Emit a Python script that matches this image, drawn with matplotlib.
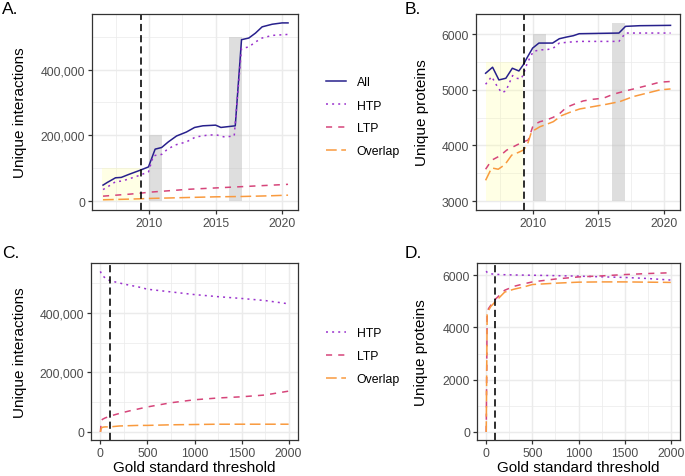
import matplotlib
matplotlib.use("Agg")
import matplotlib.pyplot as plt
import matplotlib.ticker as mticker

plt.rcParams['font.family'] = ['Liberation Sans', 'DejaVu Sans']

W, H = 685, 477

# ---- panel A : unique interactions over time ----
a_all_x = [2006.53, 2006.85, 2007.47, 2007.9, 2008.46, 2009.33, 2009.95, 2010.45, 2010.94,
           2011.44, 2012.06, 2012.8, 2013.42, 2014.04, 2015.0, 2015.4, 2016.48, 2016.95,
           2017.5, 2018.0, 2018.5, 2019.26, 2020.0, 2020.45]
a_all_y = [48600, 56700, 70900, 72000, 81000, 94000, 104000, 158000, 163000,
           180000, 198000, 210000, 224000, 229000, 231000, 224000, 229000, 491000,
           496000, 511000, 530000, 538000, 542000, 542000]
a_htp_x = [2006.53, 2007.1, 2007.47, 2007.97, 2008.59, 2009.33, 2009.95, 2010.32, 2010.94,
           2011.3, 2011.9, 2012.8, 2013.5, 2014.3, 2015.0, 2015.67, 2016.4, 2016.95,
           2017.5, 2018.0, 2018.5, 2019.26, 2020.45]
a_htp_y = [35000, 49000, 59000, 61000, 69000, 79000, 89000, 138000, 142000,
           155000, 170000, 180000, 195000, 200000, 202000, 195000, 198000, 464000,
           469000, 484000, 496000, 504000, 507000]
a_ltp_x = [2006.53, 2007.5, 2008.5, 2009.33, 2010.0, 2011.0, 2012.0, 2013.0, 2014.0,
           2015.0, 2016.0, 2017.0, 2018.0, 2019.0, 2020.45]
a_ltp_y = [15000, 18000, 21000, 24000, 27000, 30000, 33000, 36000, 38000,
           40000, 42000, 44000, 46000, 48000, 51000]
a_ovl_x = a_ltp_x
a_ovl_y = [4000, 5000, 6000, 7000, 8000, 9000, 10000, 11000, 12000,
           13000, 13500, 14000, 15000, 16000, 18000]

# ---- panel B : unique proteins over time ----
b_all_x = [2006.43, 2006.96, 2007.44, 2007.97, 2008.46, 2008.96, 2009.29, 2009.59, 2010.0,
           2010.48, 2010.94, 2011.52, 2012.03, 2012.58, 2013.09, 2013.54, 2015.04, 2016.56,
           2017.06, 2018.15, 2020.48]
b_all_y = [5296, 5404, 5176, 5206, 5386, 5337, 5447, 5579, 5747,
           5838, 5838, 5838, 5916, 5946, 5970, 6006, 6012, 6018,
           6138, 6150, 6156]
b_htp_x = [2006.43, 2006.89, 2007.32, 2007.65, 2007.97, 2008.48, 2008.78, 2009.11, 2009.29,
           2009.59, 2010.05, 2010.56, 2011.06, 2011.57, 2012.03, 2012.84, 2013.59, 2015.04,
           2016.56, 2017.06, 2020.48]
b_htp_y = [5098, 5236, 5056, 4948, 4978, 5255, 5206, 5194, 5266,
           5477, 5687, 5717, 5717, 5747, 5838, 5856, 5868, 5868,
           5868, 6018, 6018]
b_ltp_x = [2006.43, 2006.89, 2007.52, 2008.03, 2008.78, 2009.29, 2009.67, 2010.05, 2010.56,
           2011.06, 2011.57, 2012.08, 2012.58, 2013.34, 2013.85, 2014.61, 2015.37, 2016.13,
           2017.06, 2017.9, 2018.91, 2019.67, 2020.48]
b_ltp_y = [3572, 3734, 3813, 3915, 4005, 4066, 4096, 4366, 4426,
           4457, 4505, 4577, 4685, 4757, 4799, 4829, 4847, 4919,
           4979, 5027, 5087, 5136, 5148]
b_ovl_x = [2006.43, 2006.89, 2007.39, 2007.9, 2008.41, 2008.91, 2009.29, 2009.59, 2009.92,
           2010.56, 2011.06, 2011.57, 2012.2, 2012.84, 2013.59, 2014.61, 2015.62, 2016.63,
           2017.65, 2018.66, 2019.67, 2020.48]
b_ovl_y = [3373, 3596, 3572, 3656, 3825, 3873, 3915, 4005, 4246,
           4336, 4378, 4426, 4535, 4595, 4655, 4697, 4739, 4787,
           4877, 4937, 4997, 5014]

# ---- panels C / D : gold standard threshold ----
thresh = [0, 10, 25, 50, 100, 200, 300, 400, 500, 750, 1000, 1250, 1500, 1750, 2000]
c_htp = [539000, 530000, 524000, 517000, 508000, 500000, 493000, 487000, 479000,
         470000, 461000, 454000, 448000, 441000, 430000]
c_ltp = [0, 39000, 43000, 47000, 53000, 62000, 70000, 77000, 84000,
         98000, 108000, 114000, 118000, 124000, 137000]
c_ovl = [0, 13000, 16000, 17000, 17000, 20000, 21000, 22000, 22000,
         24000, 25000, 26000, 26000, 26000, 26000]
d_htp = [6155, 6100, 6070, 6050, 6030, 6015, 6005, 6000, 5995,
         5980, 5960, 5935, 5910, 5870, 5811]
d_ltp = [0, 4550, 4720, 4850, 5080, 5420, 5570, 5660, 5740,
         5850, 5930, 5970, 6020, 6060, 6090]
d_ovl = [0, 4500, 4650, 4800, 4990, 5350, 5460, 5540, 5640,
         5690, 5730, 5740, 5740, 5730, 5720]

cutoff_year = 2009.35
cutoff_thresh = 100

cols = {'All': '#27208C', 'HTP': '#9A32CD', 'LTP': '#D6457A', 'Overlap': '#F99A3E'}
dash = {'All': '-', 'HTP': (0, (1.3, 2.7)), 'LTP': (0, (4, 4)), 'Overlap': (0, (7, 3))}
LW = 1.1
VLINE = dict(color='black', ls=(0, (4.5, 2.5)), lw=1.15)

fig = plt.figure(figsize=(W / 100, H / 100), dpi=100)


def px_axes(l, t, r, b):
    return fig.add_axes([l / W, 1 - b / H, (r - l) / W, (b - t) / H])


def style(ax, xmaj, xmin, ymaj, ymin):
    ax.xaxis.set_major_locator(mticker.MultipleLocator(xmaj))
    ax.xaxis.set_minor_locator(mticker.MultipleLocator(xmin))
    ax.yaxis.set_major_locator(mticker.MultipleLocator(ymaj))
    ax.yaxis.set_minor_locator(mticker.MultipleLocator(ymin))
    ax.grid(True, which='major', color='#EBEBEB', lw=1.07)
    ax.grid(True, which='minor', color='#EBEBEB', lw=0.53)
    ax.set_axisbelow(True)
    for s in ax.spines.values():
        s.set_color('#333333')
        s.set_linewidth(0.9)
    ax.tick_params(which='major', direction='out', length=2.75, width=0.9,
                   color='#333333', labelcolor='#4D4D4D', labelsize=8.8, pad=2.2)
    ax.tick_params(which='minor', length=0)


def line(ax, x, y, key):
    return ax.plot(x, y, color=cols[key], ls=dash[key], lw=LW, label=key)[0]


comma = mticker.FuncFormatter(lambda v, p: f"{int(round(v)):,}")

# A
axA = px_axes(92, 15, 298, 211)
style(axA, 5, 2.5, 200000, 100000)
axA.fill_between([2006.43, 2009.33], 0, 100000, color='#FFFF99', alpha=0.25, lw=0)
axA.fill_between([2010, 2011], 0, 200000, color='#BEBEBE', alpha=0.5, lw=0)
axA.fill_between([2016, 2017], 0, 500000, color='#BEBEBE', alpha=0.5, lw=0)
hA = [line(axA, a_all_x, a_all_y, 'All'), line(axA, a_htp_x, a_htp_y, 'HTP'),
      line(axA, a_ltp_x, a_ltp_y, 'LTP'), line(axA, a_ovl_x, a_ovl_y, 'Overlap')]
axA.axvline(cutoff_year, **VLINE)
axA.set_xlim(2005.7, 2021.2)
axA.set_ylim(-27100, 569100)
axA.yaxis.set_major_formatter(comma)
axA.set_ylabel('Unique interactions', fontsize=11)
axA.yaxis.set_label_coords((27 - 92) / 206, 0.5)

# B
axB = px_axes(476, 15, 680, 211)
style(axB, 5, 2.5, 1000, 500)
axB.fill_between([2006.43, 2009.3], 3000, 5500, color='#FFFF99', alpha=0.25, lw=0)
axB.fill_between([2010, 2011], 3000, 6000, color='#BEBEBE', alpha=0.5, lw=0)
axB.fill_between([2016, 2017], 3000, 6200, color='#BEBEBE', alpha=0.5, lw=0)
line(axB, b_all_x, b_all_y, 'All')
line(axB, b_htp_x, b_htp_y, 'HTP')
line(axB, b_ltp_x, b_ltp_y, 'LTP')
line(axB, b_ovl_x, b_ovl_y, 'Overlap')
axB.axvline(cutoff_year, **VLINE)
axB.set_xlim(2005.7, 2021.2)
axB.set_ylim(2840, 6360)
axB.set_ylabel('Unique proteins', fontsize=11)
axB.yaxis.set_label_coords((429 - 476) / 204, 0.5)

# C
axC = px_axes(91, 264, 298, 441)
style(axC, 500, 250, 200000, 100000)
hC = [line(axC, thresh, c_htp, 'HTP'), line(axC, thresh, c_ltp, 'LTP'),
      line(axC, thresh, c_ovl, 'Overlap')]
axC.axvline(cutoff_thresh, **VLINE)
axC.set_xlim(-100, 2100)
axC.set_ylim(-27000, 567000)
axC.yaxis.set_major_formatter(comma)
axC.set_ylabel('Unique interactions', fontsize=11)
axC.yaxis.set_label_coords((27 - 91) / 207, 0.5)
axC.set_xlabel('Gold standard threshold', fontsize=11)
axC.xaxis.set_label_coords(0.5, (441 - 468) / 177)
axC.xaxis.label.set_va('center')

# D
axD = px_axes(477, 264, 680, 441)
style(axD, 500, 250, 2000, 1000)
line(axD, thresh, d_htp, 'HTP')
line(axD, thresh, d_ltp, 'LTP')
line(axD, thresh, d_ovl, 'Overlap')
axD.axvline(cutoff_thresh, **VLINE)
axD.set_xlim(-100, 2100)
axD.set_ylim(-308, 6463)
axD.set_ylabel('Unique proteins', fontsize=11)
axD.yaxis.set_label_coords((428 - 477) / 203, 0.5)
axD.set_xlabel('Gold standard threshold', fontsize=11)
axD.xaxis.set_label_coords(0.5, (441 - 468) / 177)
axD.xaxis.label.set_va('center')

# legends
leg_kw = dict(loc='center left', frameon=False, fontsize=8.8, handlelength=1.64,
              handletextpad=0.88, labelspacing=0.9, borderpad=0, borderaxespad=0)
fig.legend(hA, [h.get_label() for h in hA], bbox_to_anchor=(326 / W, 1 - 118 / H), **leg_kw)
fig.legend(hC, [h.get_label() for h in hC], bbox_to_anchor=(326 / W, 1 - 357 / H), **leg_kw)

# panel letters
for lab, x, y in [('A.', 2, 9), ('B.', 405, 9), ('C.', 2, 254), ('D.', 405, 254)]:
    fig.text(x / W, 1 - y / H, lab, fontsize=12.5, ha='left', va='center')

fig.savefig('out.png', dpi=100)
